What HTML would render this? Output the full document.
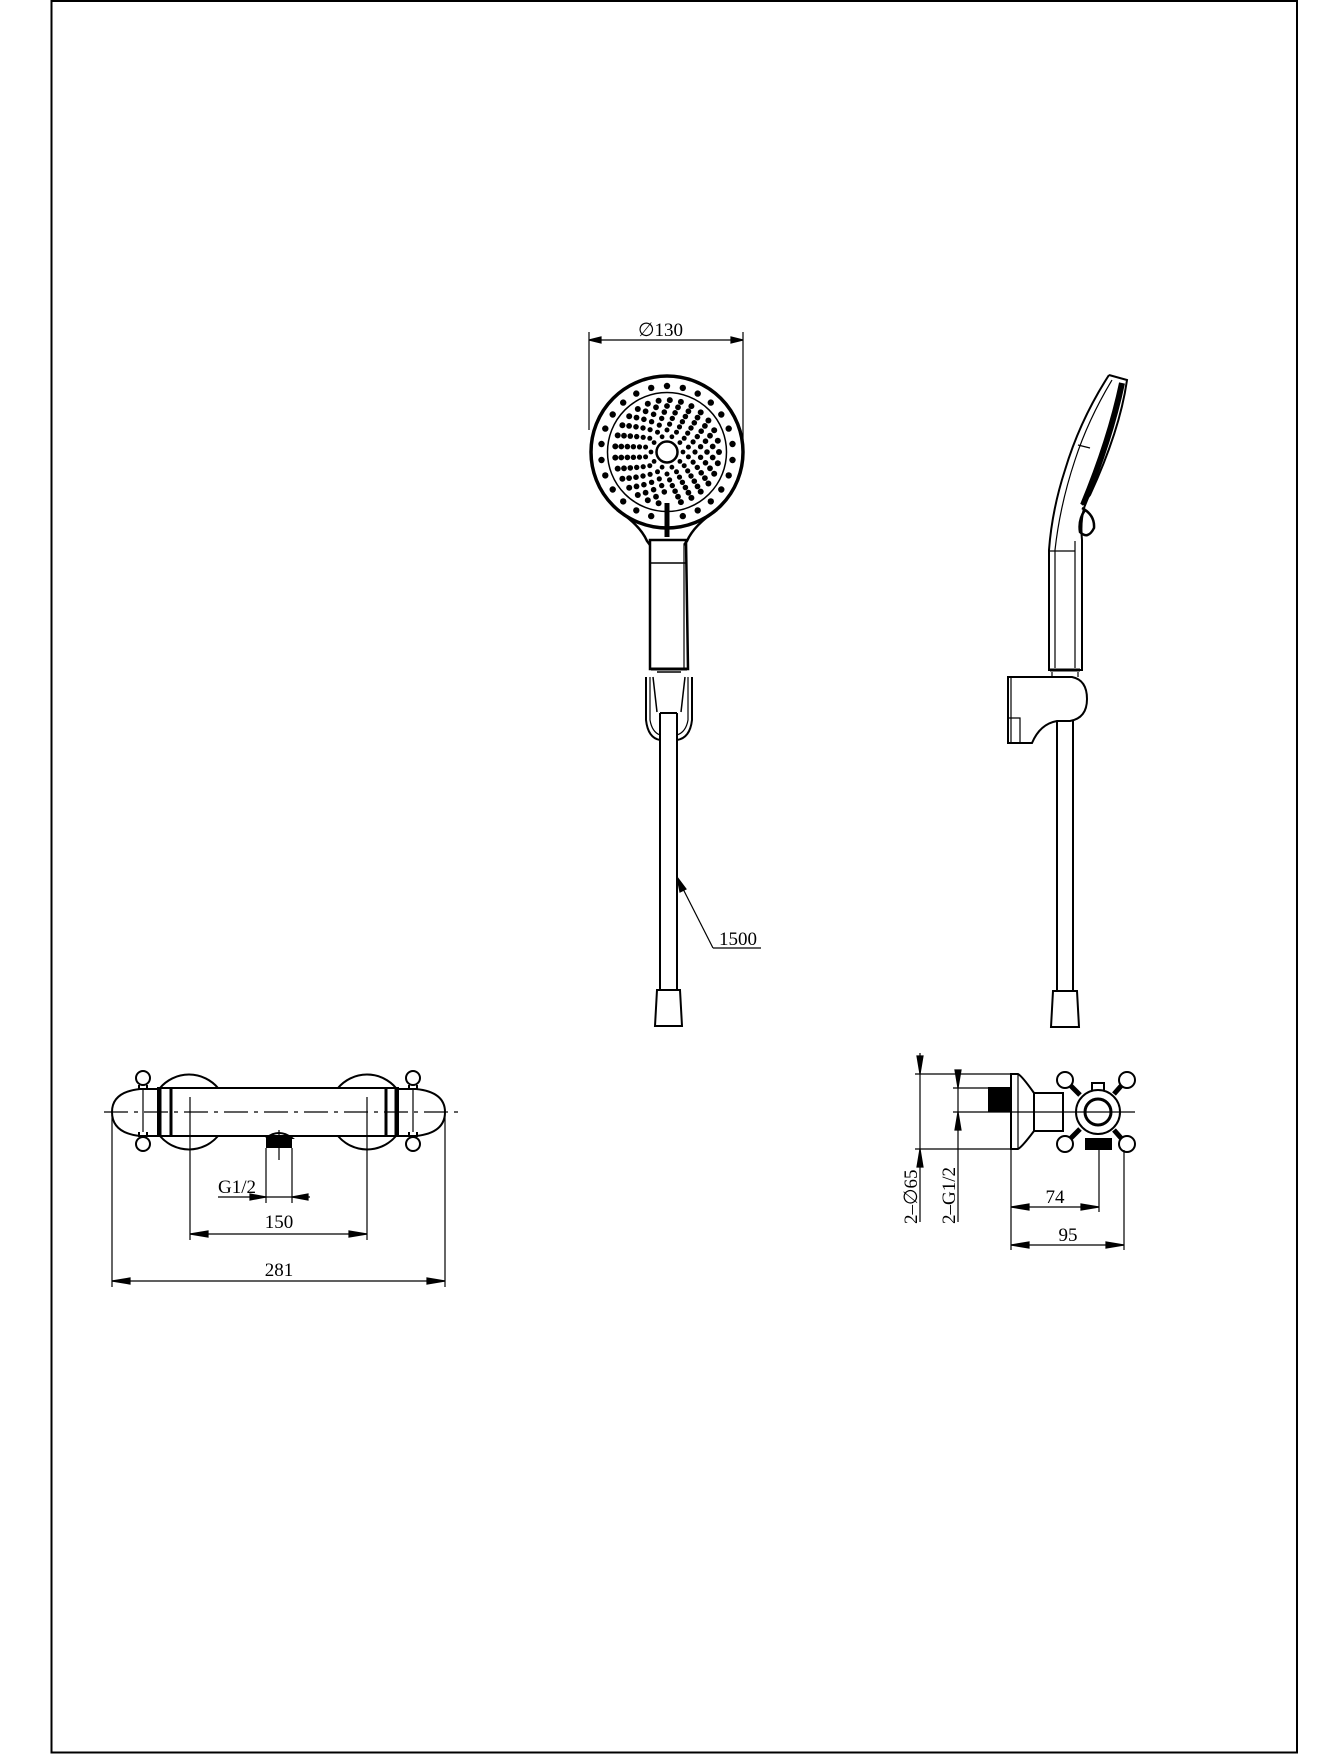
<!DOCTYPE html>
<html><head><meta charset="utf-8"><style>
html,body{margin:0;padding:0;background:#fff;}
svg{display:block;}
text{font-family:"Liberation Serif",serif;fill:#000;}
</style></head><body>
<svg width="1341" height="1754" viewBox="0 0 1341 1754" xmlns="http://www.w3.org/2000/svg">
<rect x="51.5" y="1" width="1245.5" height="1751.5" fill="none" stroke="#000" stroke-width="2"/>

<g fill="none" stroke="#000" stroke-width="1.2">
<line x1="589" y1="332" x2="589" y2="430"/>
<line x1="743" y1="332" x2="743" y2="440"/>
<line x1="589" y1="340" x2="743" y2="340"/>
<path d="M601,337 L589,340 L601,343Z M731,337 L743,340 L731,343Z" fill="#000"/>
</g>
<text x="638" y="336" font-size="19">∅130</text>

<!-- Hand shower front -->
<g fill="none" stroke="#000">
<circle cx="667" cy="452" r="76" stroke-width="3.5"/>
<circle cx="667" cy="452" r="59.5" stroke-width="1.5"/>
<circle cx="667" cy="452" r="10.5" stroke-width="2.5"/>
<path d="M617,510 Q640,525 647,541 L650,545 M717,510 Q694,525 687,541 L684,545" stroke-width="2.5"/>
<path d="M650,540 L686,540 L688,669 L650,669 Z" stroke-width="2.5"/>
<line x1="651" y1="563" x2="686" y2="563" stroke-width="1.5"/>
<line x1="684" y1="545" x2="684" y2="668" stroke-width="1.2"/>
<line x1="651" y1="669" x2="687" y2="669" stroke-width="3"/>
</g>
<rect x="664.5" y="503" width="5" height="34" fill="#000"/>
<g id="dots" fill="#000"></g>

<!-- holder front -->
<g fill="none" stroke="#000" stroke-width="2">
<path d="M646,677 L646,720 Q648,738 660,740 M692,677 L692,720 Q690,738 677,740"/>
<path d="M650,677 L650,720 Q652,732 660,735 M688,677 L688,720 Q686,732 677,735" stroke-width="1.2"/>
<path d="M653,677 L657,712 M685,677 L681,712" stroke-width="1.5"/>
<path d="M657,672 L681,672" stroke-width="1.5"/>
<path d="M660,713 L677,713 M660,713 L660,990 M677,713 L677,990" />
<path d="M657,990 L680,990 L682,1026 L655,1026 Z"/>
</g>
<g fill="none" stroke="#000" stroke-width="1.2">
<line x1="678" y1="879" x2="713" y2="948"/>
<line x1="713" y1="948" x2="761" y2="948"/>
<path d="M677,877 L686,889 L680,892Z" fill="#000"/>
</g>
<text x="719" y="945" font-size="19">1500</text>

<!-- side view -->
<g fill="none" stroke="#000" stroke-width="2">
<path d="M1109,375 L1127,380 Q1120,430 1090,495 L1082,505"/>
<path d="M1109,375 Q1080,420 1065,470 Q1052,510 1049,550 L1049,670 L1082,670 L1082,540 Q1080,520 1085,505"/>
<path d="M1112,380 Q1088,420 1075,460 Q1060,505 1055,550 L1055,668" stroke-width="1.2"/>
<path d="M1122,383 Q1110,440 1083,505" stroke-width="6"/>
<path d="M1078,445 L1090,448" stroke-width="1.2"/>
<line x1="1049" y1="551" x2="1075" y2="551" stroke-width="1.2"/>
<line x1="1075" y1="541" x2="1075" y2="668" stroke-width="1.2"/>
<path d="M1082,508 Q1095,515 1094,528 Q1088,540 1080,532 Q1078,520 1085,510" stroke-width="2.5"/>
<line x1="1050" y1="670" x2="1080" y2="670" stroke-width="3"/>
<path d="M1052,672 L1052,677 M1078,672 L1078,677" stroke-width="1.2"/>
<path d="M1008,677 L1072,677 Q1087,680 1087,699 Q1087,718 1070,721 L1057,721 Q1040,724 1032,743 L1008,743 Z"/>
<path d="M1011,677 L1011,743 M1008,718 L1020,718 L1020,743" stroke-width="1.2"/>
<path d="M1057,721 L1057,991 M1073,721 L1073,991"/>
<path d="M1053,991 L1077,991 L1079,1027 L1051,1027 Z"/>
</g>

<!-- bottom-left thermostat front -->
<g fill="none" stroke="#000" stroke-width="2">
<rect x="158" y="1088" width="240" height="48"/>
<path d="M140,1089 L158,1089 M140,1136 L158,1136 M140,1089 Q112,1092 112,1112 Q112,1133 140,1136"/>
<path d="M416,1089 L398,1089 M416,1136 L398,1136 M416,1089 Q445,1092 445,1112 Q445,1133 416,1136"/>
<path d="M160,1088 A38,38 0 0 1 218,1088 M160,1136 A38,38 0 0 0 218,1136"/>
<path d="M338,1088 A38,38 0 0 1 396,1088 M338,1136 A38,38 0 0 0 396,1136"/>
<line x1="160" y1="1088" x2="160" y2="1136" stroke-width="3"/>
<line x1="171" y1="1088" x2="171" y2="1136" stroke-width="3"/>
<line x1="386" y1="1088" x2="386" y2="1136" stroke-width="3"/>
<line x1="396" y1="1088" x2="396" y2="1136" stroke-width="3"/>
<circle cx="143" cy="1078" r="7"/><circle cx="143" cy="1144" r="7"/>
<circle cx="413" cy="1078" r="7"/><circle cx="413" cy="1144" r="7"/>
<path d="M139,1085 L139,1090 M147,1085 L147,1090 M139,1132 L139,1137 M147,1132 L147,1137 M409,1085 L409,1090 M417,1085 L417,1090 M409,1132 L409,1137 M417,1132 L417,1137"/>
<path d="M266,1138 Q279,1128 292,1138 L266,1138"/>
</g>
<rect x="266" y="1139" width="26" height="9" fill="#000"/>
<g fill="none" stroke="#000" stroke-width="1.2">
<line x1="143" y1="1090" x2="143" y2="1132"/>
<line x1="413" y1="1090" x2="413" y2="1132"/>
<line x1="104" y1="1112" x2="460" y2="1112" stroke-dasharray="24,6,4,6"/>
<line x1="279" y1="1130" x2="279" y2="1160"/>
<line x1="190" y1="1097" x2="190" y2="1240"/>
<line x1="367" y1="1097" x2="367" y2="1240"/>
<line x1="266" y1="1148" x2="266" y2="1203"/>
<line x1="292" y1="1148" x2="292" y2="1203"/>
<line x1="218" y1="1197" x2="310" y2="1197"/>
<path d="M250,1194 L266,1197 L250,1200Z M308,1194 L292,1197 L308,1200Z" fill="#000"/>
<line x1="190" y1="1234" x2="367" y2="1234"/>
<path d="M208,1231 L190,1234 L208,1237Z M349,1231 L367,1234 L349,1237Z" fill="#000"/>
<line x1="112" y1="1115" x2="112" y2="1287"/>
<line x1="445" y1="1115" x2="445" y2="1287"/>
<line x1="112" y1="1281" x2="445" y2="1281"/>
<path d="M130,1278 L112,1281 L130,1284Z M427,1278 L445,1281 L427,1284Z" fill="#000"/>
</g>
<text x="218" y="1193" font-size="19">G1/2</text>
<text x="279" y="1228" font-size="19" text-anchor="middle">150</text>
<text x="279" y="1276" font-size="19" text-anchor="middle">281</text>

<!-- bottom-right side view -->
<g fill="none" stroke="#000" stroke-width="2">
<path d="M1011,1074 L1018,1074 Q1022,1076 1034,1093 L1034,1131 Q1022,1147 1018,1149 L1011,1149 Z"/>
<line x1="1018" y1="1074" x2="1018" y2="1149" stroke-width="1.2"/>
<rect x="1034" y="1093" width="29" height="38"/>
<circle cx="1098" cy="1112" r="22"/>
<circle cx="1098" cy="1112" r="13" stroke-width="3"/>
<circle cx="1065" cy="1080" r="8"/><circle cx="1127" cy="1080" r="8"/>
<circle cx="1065" cy="1144" r="8"/><circle cx="1127" cy="1144" r="8"/>
<path d="M1071,1086 L1080,1095 M1121,1086 L1114,1094 M1071,1138 L1080,1129 M1121,1138 L1114,1130" stroke-width="5"/>
<path d="M1092,1090 L1092,1083 L1104,1083 L1104,1090"/>
</g>
<rect x="988" y="1087" width="23" height="25" fill="#000"/>
<rect x="1085" y="1138" width="27" height="12" fill="#000"/>
<g fill="none" stroke="#000" stroke-width="1.2">
<line x1="915" y1="1074" x2="1011" y2="1074"/>
<line x1="915" y1="1149" x2="1011" y2="1149"/>
<line x1="953" y1="1088" x2="988" y2="1088"/>
<line x1="953" y1="1112" x2="1135" y2="1112"/>
<line x1="920" y1="1053" x2="920" y2="1222"/>
<path d="M917,1056 L920,1074 L923,1056Z M917,1167 L920,1149 L923,1167Z" fill="#000"/>
<line x1="958" y1="1070" x2="958" y2="1222"/>
<path d="M955,1070 L958,1088 L961,1070Z M955,1130 L958,1112 L961,1130Z" fill="#000"/>
<line x1="1011" y1="1150" x2="1011" y2="1250"/>
<line x1="1099" y1="1150" x2="1099" y2="1212"/>
<line x1="1124" y1="1150" x2="1124" y2="1250"/>
<line x1="1011" y1="1207" x2="1099" y2="1207"/>
<path d="M1029,1204 L1011,1207 L1029,1210Z M1081,1204 L1099,1207 L1081,1210Z" fill="#000"/>
<line x1="1011" y1="1245" x2="1124" y2="1245"/>
<path d="M1029,1242 L1011,1245 L1029,1248Z M1106,1242 L1124,1245 L1106,1248Z" fill="#000"/>
</g>
<text x="0" y="0" font-size="19" transform="translate(917,1224) rotate(-90)">2–∅65</text>
<text x="0" y="0" font-size="19" transform="translate(955,1224) rotate(-90)">2–G1/2</text>
<text x="1055" y="1203" font-size="19" text-anchor="middle">74</text>
<text x="1068" y="1241" font-size="19" text-anchor="middle">95</text>
</svg>
<script>
(function(){
var g=document.getElementById('dots');var ns='http://www.w3.org/2000/svg';
var cx=667,cy=452;
var rings=[[16,10,2.4],[22,14,2.5],[28,17,2.6],[34,20,2.7],[40,23,2.8],[46,26,2.9],[52,29,3.0],[66,26,3.2]];
rings.forEach(function(r,i){
 for(var k=0;k<r[1];k++){
  var a=(k+(i%2?0.5:0))/r[1]*Math.PI*2;
  var x=cx+r[0]*Math.cos(a),y=cy+r[0]*Math.sin(a);
  if(y>cy+45&&Math.abs(x-cx)<7)continue;
  var c=document.createElementNS(ns,'circle');
  c.setAttribute('cx',x.toFixed(1));c.setAttribute('cy',y.toFixed(1));c.setAttribute('r',r[2]);
  g.appendChild(c);
 }
});
})();
</script>
</body></html>
